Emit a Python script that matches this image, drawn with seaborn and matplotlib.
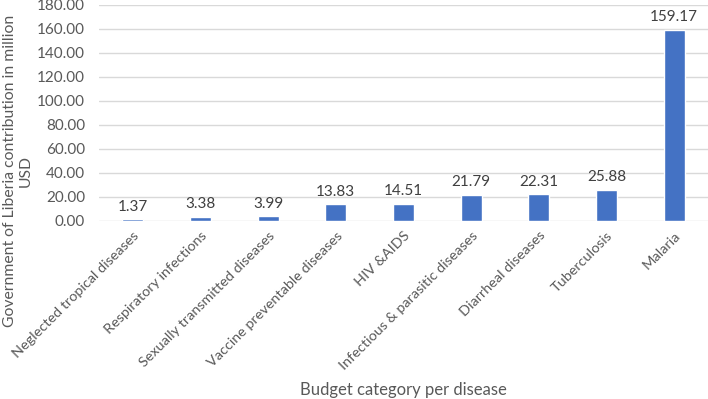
import matplotlib
matplotlib.use("Agg")
import matplotlib.pyplot as plt
import seaborn as sns
import pandas as pd

# Datos
categories = [
    "Neglected tropical diseases", "Respiratory infections",
    "Sexually transmitted diseases", "Vaccine preventable diseases",
    "HIV &AIDS", "Infectious & parasitic diseases", "Diarrheal diseases",
    "Tuberculosis", "Malaria",
]
values = [1.37, 3.38, 3.99, 13.83, 14.51, 21.79, 22.31, 25.88, 159.17]
y_ticks = [0, 20, 40, 60, 80, 100, 120, 140, 160, 180]

df = pd.DataFrame({"category": categories, "value": values})

sns.set_style("white")
plt.rcParams["font.family"] = ["Lato", "DejaVu Sans"]

fig = plt.figure(figsize=(7.08, 3.99), dpi=100)
ax = fig.add_axes([99 / 708, 1 - 221 / 399, 609 / 708, 216 / 399])

sns.barplot(data=df, x="category", y="value", color="#4472C4",
            width=0.31, saturation=1, ax=ax, zorder=3)

ax.set_ylim(0, 180)
ax.set_yticks(y_ticks)
ax.set_yticklabels([f"{v:.2f}" for v in y_ticks], fontsize=11, color="#595959")
ax.yaxis.grid(True, color="#d9d9d9", linewidth=1, zorder=0)
ax.set_axisbelow(True)
for s in ax.spines.values():
    s.set_visible(False)
ax.tick_params(axis="y", length=0, pad=10)
ax.tick_params(axis="x", length=0, pad=6)
ax.set_xlim(-0.5, len(categories) - 0.5)

ax.set_xticks(range(len(categories)))
ax.set_xticklabels(categories, rotation=45, ha="right", rotation_mode="anchor",
                   fontsize=10.4, color="#595959")
ax.set_xlabel("")
ax.set_ylabel("")

for i, v in enumerate(values):
    ax.annotate(f"{v:.2f}", (i, v), xytext=(0, 4), textcoords="offset points",
                ha="center", va="bottom", fontsize=11, color="#404040")

fig.text(18 / 708, 1 - 171 / 399,
         "Government of Liberia contribution in million\nUSD",
         rotation=90, ha="center", va="center", fontsize=11.3,
         color="#595959", linespacing=1.15)
fig.text(403 / 708, 1 - 390 / 399, "Budget category per disease",
         ha="center", va="center", fontsize=12, color="#595959")

fig.savefig("out.png", dpi=100, facecolor="white")
